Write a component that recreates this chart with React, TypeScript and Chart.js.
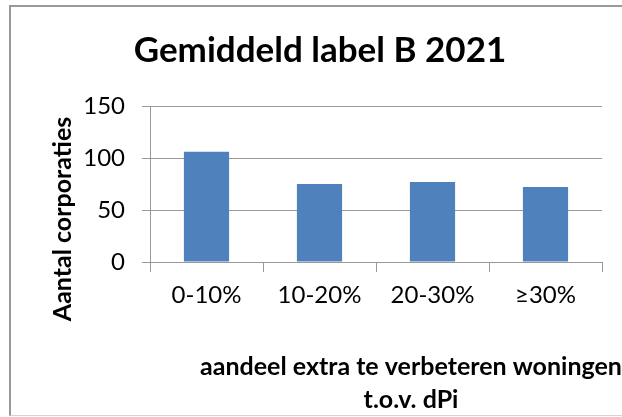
import React, { useEffect, useRef } from "react";
import { Chart, registerables } from "chart.js";

Chart.register(...registerables);

const categories = ["0-10%", "10-20%", "20-30%", "≥30%"];
const values = [106, 75, 77, 72];
const yMin = 0;
const yMax = 150;
const yStep = 50;
const titleText = "Gemiddeld label B 2021";
const yTitleText = "Aantal corporaties";
const xTitleLines = ["aandeel extra te verbeteren woningen", "t.o.v. dPi"];

const FONT = "Lato, 'Open Sans', sans-serif";

const textPlugin = {
  id: "excelTexts",
  afterDraw(chart: any) {
    const ctx = chart.ctx as CanvasRenderingContext2D;
    ctx.save();
    ctx.fillStyle = "#000";
    ctx.textAlign = "center";
    ctx.textBaseline = "alphabetic";
    // title
    ctx.font = `bold 35px ${FONT}`;
    ctx.fillText(titleText, 320, 62);
    // x title
    ctx.font = `bold 25px ${FONT}`;
    ctx.fillText(xTitleLines[0], 411, 375);
    ctx.fillText(xTitleLines[1], 411, 408);
    // y title
    ctx.font = `bold 25px ${FONT}`;
    ctx.translate(71, 219);
    ctx.rotate(-Math.PI / 2);
    ctx.fillText(yTitleText, 0, 0);
    ctx.restore();
  },
};

export default function App() {
  const ref = useRef<HTMLCanvasElement>(null);
  useEffect(() => {
    if (!ref.current) return;
    const chart = new Chart(ref.current, {
      type: "bar",
      data: {
        labels: categories,
        datasets: [
          {
            data: values,
            backgroundColor: "#4F81BD",
            borderWidth: 0,
            categoryPercentage: 1,
            barPercentage: 0.4,
          },
        ],
      },
      options: {
        animation: false,
        responsive: false,
        layout: { padding: { top: 106, right: 20, left: 0, bottom: 0 } },
        plugins: {
          legend: { display: false },
          title: { display: false },
          tooltip: { enabled: false },
        },
        scales: {
          x: {
            grid: {
              offset: true,
              drawOnChartArea: false,
              drawTicks: true,
              tickLength: 10,
              color: "#999999",
            },
            border: { display: true, color: "#999999" },
            ticks: {
              color: "#000",
              font: { family: FONT, size: 24 },
              padding: 9,
              maxRotation: 0,
            },
            afterFit: (s: any) => {
              s.height = 155;
            },
          },
          y: {
            min: yMin,
            max: yMax,
            grid: { color: "#999999", tickLength: 8, drawTicks: true },
            border: { display: true, color: "#999999" },
            ticks: {
              stepSize: yStep,
              color: "#000",
              font: { family: FONT, size: 24 },
              padding: 17,
            },
            afterFit: (s: any) => {
              s.width = 150;
            },
          },
        },
      },
      plugins: [textPlugin],
    });
    return () => chart.destroy();
  }, []);

  return (
    <div
      style={{
        position: "fixed",
        left: 0,
        top: 0,
        width: 622,
        height: 417,
        overflow: "hidden",
        background: "#fff",
      }}
    >
      <div
        style={{
          position: "absolute",
          left: 9,
          top: 5,
          width: 700,
          height: 408,
          borderLeft: "2px solid #9a9a9a",
          borderTop: "2px solid #9a9a9a",
          borderBottom: "1px solid #d4d4d4",
        }}
      />
      <canvas
        ref={ref}
        width={622}
        height={417}
        style={{ position: "absolute", left: 0, top: 0 }}
      />
    </div>
  );
}
